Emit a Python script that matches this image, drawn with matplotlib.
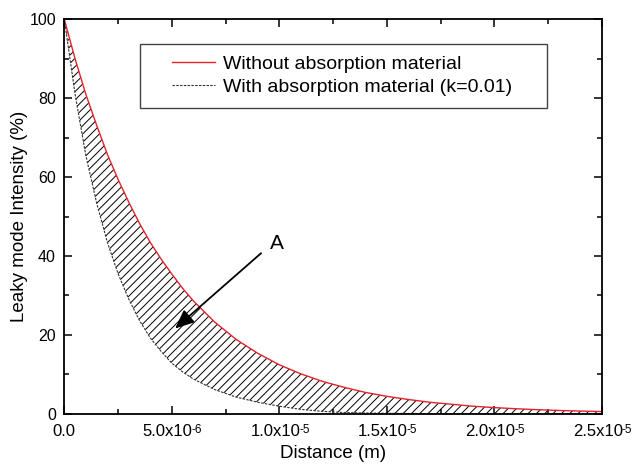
import matplotlib
matplotlib.use("Agg")
import matplotlib.pyplot as plt
from matplotlib.patches import Rectangle
from matplotlib.transforms import ScaledTranslation
import numpy as np

plt.rcParams["font.family"] = ["Liberation Sans", "DejaVu Sans"]
plt.rcParams["hatch.linewidth"] = 0.7

# distance in micrometres
dist_um = [0, 0.5, 1, 1.5, 2, 2.5, 3, 3.5, 4, 4.5, 5, 5.5, 6, 7, 8, 9, 10, 11, 12, 13,
           14, 15, 16, 17, 18, 19, 20, 21, 22, 23, 24, 25]
# without absorption material (red)
without_abs = [100, 90.0, 81.0, 73.2, 65.8, 59.4, 53.6, 48.2, 43.4, 39.2, 35.4, 31.8,
               28.6, 23.2, 18.8, 15.3, 12.4, 10.1, 8.2, 6.7, 5.4, 4.4, 3.6, 2.9, 2.4,
               1.9, 1.55, 1.26, 1.02, 0.83, 0.67, 0.55]
# with absorption material, k=0.01 (dashed)
with_abs = [100, 81.0, 65.5, 53.5, 43.5, 35.5, 29.0, 23.6, 19.2, 15.8, 12.8, 10.6,
            8.8, 6.1, 4.2, 2.9, 1.9, 1.1, 0.6, 0.3, 0.18, 0.1, 0.06, 0.04, 0.02,
            0.01, 0, 0, 0, 0, 0, 0]

xticks = [0, 5e-6, 1e-5, 1.5e-5, 2e-5, 2.5e-5]
xtick_base = ["0.0", "5.0x10", "1.0x10", "1.5x10", "2.0x10", "2.5x10"]
xtick_exp = ["", "-6", "-5", "-5", "-5", "-5"]
yticks = [0, 20, 40, 60, 80, 100]

x = np.array(dist_um) * 1e-6

fig = plt.figure(figsize=(6.33, 4.67), dpi=100)
ax = fig.add_axes([0.1016, 0.1141, 0.8494, 0.8446])

ax.fill_between(x, with_abs, without_abs, facecolor="none", edgecolor="black",
                hatch="////", linewidth=0)
ax.plot(x, without_abs, color="#e5222b", lw=1.0, label="Without absorption material")
ax.plot(x, with_abs, color="#333333", lw=0.8, ls=(0, (2.2, 1.2)),
        label="With absorption material (k=0.01)")

ax.set_xlim(0, 2.5e-5)
ax.set_ylim(0, 100)
ax.set_xticks(xticks)
ax.set_xticklabels(xtick_base)
ax.set_xticks([2.5e-6, 7.5e-6, 1.25e-5, 1.75e-5, 2.25e-5], minor=True)
ax.set_yticks(yticks)
ax.set_yticks([10, 30, 50, 70, 90], minor=True)
ax.tick_params(which="both", direction="in", top=True, right=True, width=1.1)
ax.tick_params(axis="x", which="major", length=6, pad=7.5, labelsize=12)
ax.tick_params(axis="y", which="major", length=6, pad=6, labelsize=11.5)
ax.tick_params(which="minor", length=3.5)
for sp in ax.spines.values():
    sp.set_linewidth(1.3)

# shift the "x10" labels left a bit and hang the exponent after them
shift = ScaledTranslation(-3 / 72, 0, fig.dpi_scale_trans)
for lbl, t, e in zip(ax.get_xticklabels(), xticks, xtick_exp):
    if e:
        lbl.set_transform(lbl.get_transform() + shift)
        ax.annotate(e, xy=(t, 0), xycoords=("data", "axes fraction"),
                    xytext=(14.2, -7.6), textcoords="offset points",
                    ha="left", va="top", fontsize=8.5)

ax.set_xlabel("Distance (m)", fontsize=13.5, labelpad=4)
ax.set_ylabel("Leaky mode Intensity (%)", fontsize=13.5, labelpad=1)

ax.annotate("", xy=(5.15e-6, 21.6), xytext=(9.15e-6, 40.7),
            arrowprops=dict(arrowstyle="-|>,head_length=1.15,head_width=0.5",
                            color="black", lw=1.3, shrinkA=0, shrinkB=0))
ax.text(9.9e-6, 43.2, "A", fontsize=15, ha="center", va="center")

ax.add_patch(Rectangle((0.1408, 0.7761), 0.757, 0.1613, transform=ax.transAxes,
                       fill=False, edgecolor="#444444", lw=1.0, zorder=4))
ax.legend(loc="center left", bbox_to_anchor=(0.201, 0.8575), frameon=False,
          fontsize=14, borderpad=0, borderaxespad=0, handlelength=2.2,
          handletextpad=0.4, labelspacing=0.3)

fig.savefig("out.png", dpi=100)
